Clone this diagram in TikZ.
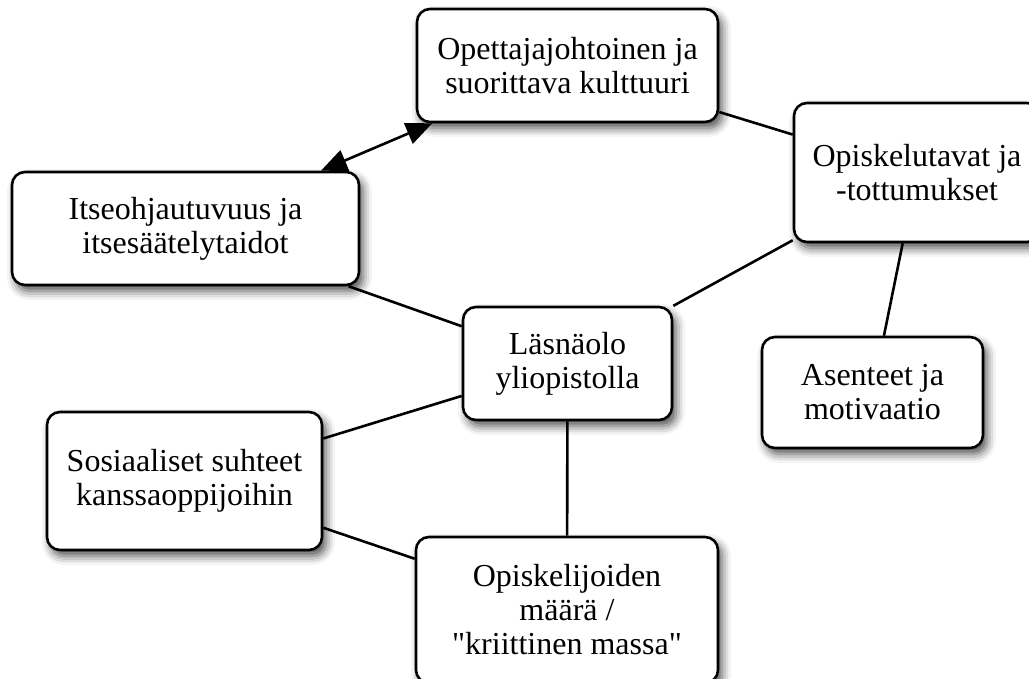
\documentclass[tikz,border=0pt]{standalone}
\usepackage{fontspec}
\newfontfamily\boxfont{Liberation Serif}
\usetikzlibrary{arrows.meta,shadows.blur}

\tikzset{
  topic/.style={
    draw=black, line width=2.6pt, fill=white, rounded corners=13pt,
    align=center, inner sep=0pt,
    font=\boxfont\fontsize{32}{34}\selectfont,
    blur shadow={shadow xshift=4pt, shadow yshift=-6pt,
                 shadow blur radius=9pt, shadow opacity=70}
  },
  link/.style={draw=black, line width=2.6pt},
  bothways/.style={link, {Triangle[length=26pt,width=22pt]}-{Triangle[length=26pt,width=22pt]}}
}

\begin{document}
\begin{tikzpicture}[x=1pt,y=-1pt]
  \useasboundingbox (0,0) rectangle (1029,679);

  % topic boxes
  \node[topic, minimum width=301pt, minimum height=113pt] (ope) at (567.5,65.5)
    {Opettajajohtoinen ja\\suorittava kulttuuri};
  \node[topic, minimum width=246pt, minimum height=139pt] (tav) at (917,172.5)
    {Opiskelutavat ja\\-tottumukset};
  \node[topic, minimum width=347pt, minimum height=113pt] (itse) at (185.5,228.5)
    {Itseohjautuvuus ja\\itsesäätelytaidot};
  \node[topic, minimum width=209pt, minimum height=113pt] (las) at (567.5,363.5)
    {Läsnäolo\\yliopistolla};
  \node[topic, minimum width=221pt, minimum height=111pt] (ase) at (872.5,392.5)
    {Asenteet ja\\motivaatio};
  \node[topic, minimum width=275pt, minimum height=138pt] (sos) at (184.5,481)
    {Sosiaaliset suhteet\\kanssaoppijoihin};
  \node[topic, minimum width=302pt, minimum height=146pt] (maa) at (567,610)
    {Opiskelijoiden\\määrä /\\"kriittinen massa"};

  % connectors
  \draw[bothways] (ope) -- (itse);
  \draw[link] (ope) -- (tav);
  \draw[link] (tav) -- (las);
  \draw[link] (tav) -- (ase);
  \draw[link] (itse) -- (las);
  \draw[link] (sos) -- (las);
  \draw[link] (sos) -- (maa);
  \draw[link] (las) -- (maa);
\end{tikzpicture}
\end{document}
